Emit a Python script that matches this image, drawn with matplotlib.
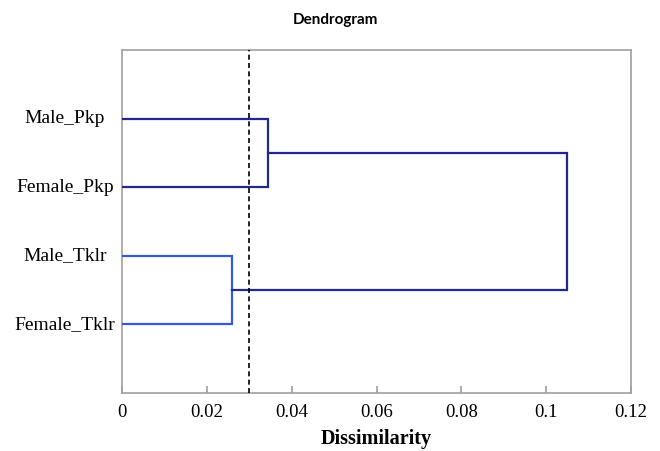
import matplotlib
matplotlib.use("Agg")
import matplotlib.pyplot as plt

# Data
leaves = ["Male_Pkp", "Female_Pkp", "Male_Tklr", "Female_Tklr"]
merge_pkp = 0.0345      # Male_Pkp + Female_Pkp
merge_tklr = 0.026      # Male_Tklr + Female_Tklr
merge_top = 0.105       # both clusters
cut_level = 0.03
x_ticks = [0, 0.02, 0.04, 0.06, 0.08, 0.1, 0.12]
x_tick_labels = ["0", "0.02", "0.04", "0.06", "0.08", "0.1", "0.12"]

dark = "#22288E"
light = "#3558E0"
grey = "#A0A0A0"

fig = plt.figure(figsize=(6.6, 4.52), dpi=100)
ax = fig.add_axes([122/660, 1-394/452, (631-122)/660, (394-51)/452])

ypos = {name: i + 1 for i, name in enumerate(leaves)}

def link(ax, y1, h1, y2, h2, h, color):
    ax.plot([h1, h, h, h2], [y1, y1, y2, y2], color=color, lw=1.6, solid_joinstyle="miter", zorder=3)

# Pkp cluster
link(ax, ypos["Male_Pkp"], 0, ypos["Female_Pkp"], 0, merge_pkp, dark)
# Tklr cluster
link(ax, ypos["Male_Tklr"], 0, ypos["Female_Tklr"], 0, merge_tklr, light)
# Top merge
y_pkp = (ypos["Male_Pkp"] + ypos["Female_Pkp"]) / 2
y_tklr = (ypos["Male_Tklr"] + ypos["Female_Tklr"]) / 2
link(ax, y_pkp, merge_pkp, y_tklr, merge_tklr, merge_top, dark)

ax.axvline(cut_level, color="black", lw=1.2, ls=(0, (3, 2)), zorder=4)

ax.set_xlim(0, 0.12)
ax.set_ylim(5, 0)
ax.set_xticks(x_ticks)
ax.set_xticklabels(x_tick_labels, fontfamily="Liberation Serif", fontsize=13.5)
ax.set_yticks([ypos[n] for n in leaves])
ax.set_yticklabels([])
ax.tick_params(axis="x", direction="in", length=5, color=grey, width=1.2, pad=7)
ax.tick_params(axis="y", length=0)
for s in ax.spines.values():
    s.set_color(grey)
    s.set_linewidth(1.2)

# leaf labels, centred in the label column
for name in leaves:
    ax.annotate(name, xy=(0, ypos[name]), xycoords=("axes fraction", "data"),
                xytext=(-57, 1), textcoords="offset pixels",
                ha="center", va="center", fontfamily="Liberation Serif", fontsize=14)

fig.text(376/660, 1-439/452, "Dissimilarity", ha="center", va="center",
         fontfamily="Liberation Serif", fontweight="bold", fontsize=14.5)
fig.text(335/660, 1-20/452, "Dendrogram", ha="center", va="center",
         fontfamily="Lato", fontweight="bold", fontsize=11)

fig.savefig("out.png", dpi=100)
